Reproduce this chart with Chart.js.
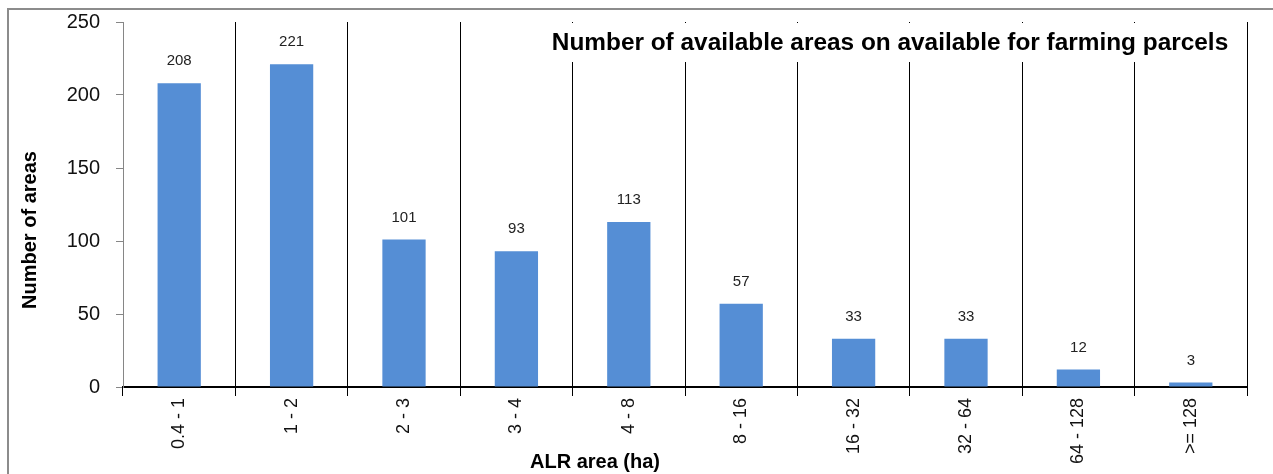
<!DOCTYPE html>
<html>
<head>
<meta charset="utf-8">
<script src="https://cdn.jsdelivr.net/npm/chart.js@4"></script>
<style>
    html, body { margin: 0; padding: 0; background: #fff; overflow: hidden; }
    #frame {
        position: absolute; left: 7px; top: 8px; width: 1400px; height: 600px;
        border-left: 2px solid #8c8c8c; border-top: 2px solid #8c8c8c;
        box-sizing: border-box;
    }
    #areaChart { position: absolute; left: 0; top: 0; }
</style>
</head>
<body>
<div id="frame"></div>
<canvas id="areaChart" width="1273" height="474"></canvas>
<script>
// ALR area classes (ha) and number of areas per class
const areaClasses = ['0.4 - 1', '1 - 2', '2 - 3', '3 - 4', '4 - 8', '8 - 16', '16 - 32', '32 - 64', '64 - 128', '>= 128'];
const areaCounts = [208, 221, 101, 93, 113, 57, 33, 33, 12, 3];
const yTicks = [0, 50, 100, 150, 200, 250];

const chartTitle = 'Number of available areas on available for farming parcels';
const yTitle = 'Number of areas';
const xTitle = 'ALR area (ha)';

const FONT = "'Liberation Sans', Arial, sans-serif";

// Werte ueber den Balken + Achsentitel + Titelkasten
const labelPlugin = {
    id: 'labels',
    afterDatasetsDraw(chart) {
        const ctx = chart.ctx;
        const meta = chart.getDatasetMeta(0);
        ctx.save();
        ctx.fillStyle = '#222';
        ctx.font = '15px ' + FONT;
        ctx.textAlign = 'center';
        ctx.textBaseline = 'middle';
        meta.data.forEach((bar, i) => {
            ctx.fillText(areaCounts[i], bar.x, bar.y - 22);
        });

        // title box (covers grid lines), text stretched to ~677px like the original
        ctx.fillStyle = '#fff';
        ctx.fillRect(540, chart.chartArea.top + 1, 700, 62 - chart.chartArea.top - 1);
        ctx.fillStyle = '#000';
        ctx.font = 'bold 21px ' + FONT;
        const size = 21 * 677 / ctx.measureText(chartTitle).width;
        ctx.font = 'bold ' + size.toFixed(1) + 'px ' + FONT;
        ctx.fillText(chartTitle, 890, 43);

        // axis titles
        ctx.font = 'bold 20px ' + FONT;
        ctx.fillText(xTitle, 595, 462);
        ctx.translate(30, 230);
        ctx.rotate(-Math.PI / 2);
        ctx.fillText(yTitle, 0, 0);
        ctx.restore();
    }
};

new Chart(document.getElementById('areaChart'), {
    type: 'bar',
    data: {
        labels: areaClasses,
        datasets: [{
            data: areaCounts,
            backgroundColor: '#558ed5',
            categoryPercentage: 1,
            barPercentage: 0.385
        }]
    },
    options: {
        responsive: false,
        animation: false,
        devicePixelRatio: 1,
        layout: { padding: { top: 22, right: 26, left: 0, bottom: 0 } },
        plugins: {
            legend: { display: false },
            tooltip: { enabled: false }
        },
        scales: {
            x: {
                afterFit: scale => { scale.height = 87; scale.paddingLeft = 0; scale.paddingRight = 0; },
                grid: {
                    offset: true,
                    color: c => c.index === 0 ? 'rgba(0,0,0,0)' : '#000',
                    tickColor: '#000',
                    lineWidth: 1,
                    tickLength: 9
                },
                border: { color: '#000', width: 2 },
                ticks: {
                    minRotation: 90,
                    maxRotation: 90,
                    padding: 2,
                    color: '#111',
                    font: { family: FONT, size: 18 }
                }
            },
            y: {
                min: 0,
                max: 250,
                afterFit: scale => { scale.width = 123; scale.paddingTop = 0; scale.paddingBottom = 0; },
                afterBuildTicks: scale => { scale.ticks = yTicks.map(v => ({ value: v })); },
                grid: {
                    drawOnChartArea: false,
                    color: '#868686',
                    tickLength: 7
                },
                border: { color: '#868686', width: 1 },
                ticks: {
                    padding: 16,
                    color: '#111',
                    font: { family: FONT, size: 20 }
                }
            }
        }
    },
    plugins: [labelPlugin]
});
</script>
</body>
</html>
